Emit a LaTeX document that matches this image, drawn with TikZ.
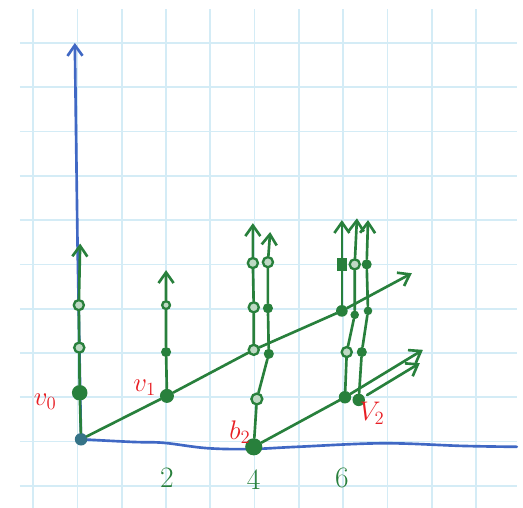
\documentclass[tikz,border=0pt]{standalone}
\usetikzlibrary{arrows.meta}
\definecolor{pen}{RGB}{40,128,60}
\definecolor{ink}{RGB}{64,104,196}
\definecolor{note}{RGB}{232,30,36}
\definecolor{paper}{RGB}{212,236,246}

\begin{document}
\begin{tikzpicture}[
  >={Straight Barb[length=2.4mm,width=3.4mm]},
  gridline/.style={draw=paper, line width=1.1pt},
  axisline/.style={draw=ink, line width=1.7pt, line cap=round},
  vec/.style={draw=pen, line width=1.7pt, line cap=round, line join=round},
  dot/.style={circle, fill=pen, inner sep=0pt, minimum size=6.5pt},
  bigdot/.style={circle, fill=pen, inner sep=0pt, minimum size=9pt},
  odot/.style={circle, draw=pen, fill=pen!30!white, line width=1.5pt, inner sep=0pt, minimum size=6.5pt},
  lab/.style={text=note, font=\LARGE},
  tick/.style={text=pen, font=\fontsize{19}{21}\selectfont}
]
\path[use as bounding box, fill=white] (-1.75,-1.5) rectangle (10.06,9.97);

% paper
\foreach \x in {-1,...,9}
  \draw[gridline] (\x,-1.5) -- (\x,9.76);
\foreach \y in {-1,...,9}
  \draw[gridline] (-1.3,\y) -- (9.92,\y);

% axes
\coordinate (org) at (0.08,0.05);
\coordinate (ytop) at (-0.06,9.0);
\draw[axisline,->] (org) -- (0.0,4.5) -- (ytop);
\draw[axisline] plot[smooth, tension=0.6] coordinates {(org) (1.25,-0.01) (1.95,-0.03) (2.92,-0.15) (3.9,-0.17) (4.96,-0.12) (6.9,-0.04) (8.7,-0.1) (9.92,-0.12)};

% points
\node[circle, fill=ink!55!pen, inner sep=0pt, minimum size=8pt] (O) at (org) {};
\node[bigdot, minimum size=10pt] (a1) at (0.05,1.1) {};
\node[odot] (a2) at (0.04,2.12) {};
\node[odot] (a3) at (0.03,3.08) {};
\coordinate (a4) at (0.06,4.47);

\node[bigdot] (v1) at (2.02,1.03) {};
\node[dot] (v1b) at (2.0,2.02) {};
\node[odot, minimum size=5pt] (v1c) at (2.0,3.08) {};
\coordinate (v1t) at (2.0,3.87);

\node[odot] (c1) at (3.98,2.07) {};
\node[odot] (c2) at (3.98,3.03) {};
\node[odot] (c3) at (3.96,4.03) {};
\coordinate (c4) at (3.96,4.93);

\node[circle, fill=pen, inner sep=0pt, minimum size=11pt] (b2) at (3.98,-0.12) {};
\node[odot, minimum size=7pt] (b2a) at (4.05,0.96) {};
\node[dot] (d1) at (4.32,1.98) {};
\node[dot] (d2) at (4.3,3.01) {};
\node[odot] (d3) at (4.3,4.05) {};
\coordinate (d4) at (4.35,4.73);

\node[dot, minimum size=7.5pt] (e1) at (5.97,2.95) {};
\node[rectangle, fill=pen, inner sep=0pt, minimum width=6pt, minimum height=8pt] (e2) at (5.97,4.0) {};
\coordinate (e3) at (5.97,5.0);

\node[bigdot, minimum size=8pt] (A) at (6.04,1.0) {};
\node[odot] (m1) at (6.08,2.02) {};
\node[dot, minimum size=5.5pt] (m2) at (6.26,2.86) {};
\node[odot] (m3) at (6.26,4.0) {};
\coordinate (m4) at (6.31,5.04);

\node[bigdot, minimum size=8pt] (V2) at (6.35,0.94) {};
\node[dot] (n1) at (6.42,2.02) {};
\node[dot, minimum size=5.5pt] (n2) at (6.56,2.95) {};
\node[dot] (n3) at (6.53,4.0) {};
\coordinate (n4) at (6.56,5.0);

\coordinate (r1) at (7.55,3.8);
\coordinate (s1) at (7.8,2.07);
\coordinate (s2) at (6.54,1.05);
\coordinate (s3) at (7.73,1.77);

% vectors
\draw[vec,->] (O) -- (a1) -- (a2) -- (a3) -- (a4);
\draw[vec,->] (O) -- (v1) -- (c1) -- (e1) -- (r1);
\draw[vec,->] (v1) -- (v1b) -- (v1c) -- (v1t);
\draw[vec,->] (c1) -- (c2) -- (c3) -- (c4);
\draw[vec,->] (b2) -- (b2a) -- (d1) -- (d2) -- (d3) -- (d4);
\draw[vec,->] (b2) -- (A) -- (s1);
\draw[vec,->] (s2) -- (s3);
\draw[vec,->] (e1) -- (e2) -- (e3);
\draw[vec,->] (A) -- (m1) -- (m2) -- (m3) -- (m4);
\draw[vec,->] (V2) -- (n1) -- (n2) -- (n3) -- (n4);

% labels
\node[lab] (lv0) at (-0.73,0.89) {$v_0$};
\node[lab] (lv1) at (1.52,1.21) {$v_1$};
\node[lab] (lb2) at (3.67,0.21) {$b_2$};
\node[lab] (lV2) at (6.65,0.64) {$V_2$};
\node[tick] (t2) at (2.02,-0.82) {2};
\node[tick] (t4) at (3.98,-0.87) {4};
\node[tick] (t6) at (5.97,-0.82) {6};
\end{tikzpicture}
\end{document}
